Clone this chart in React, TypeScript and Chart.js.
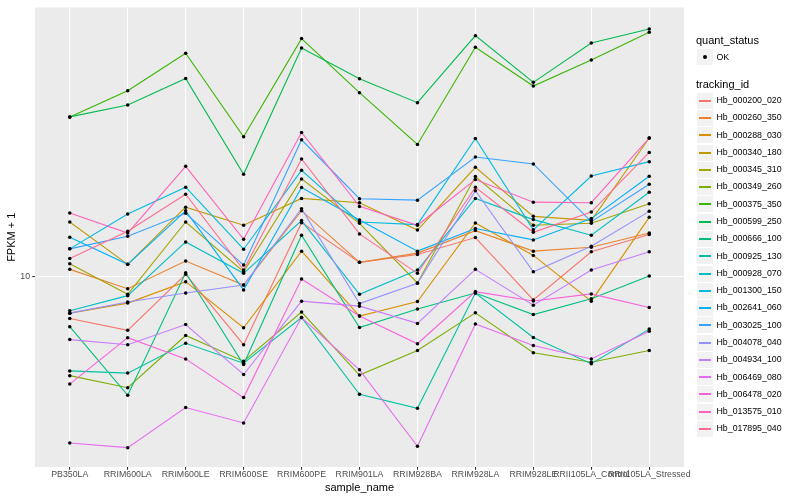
import React, { useEffect, useRef } from 'react';
import { Chart, registerables } from 'chart.js';

Chart.register(...registerables);

const FONT = '"Liberation Sans", Arial, Helvetica, sans-serif';

// ---- data ----
const categories = [
  'PB350LA', 'RRIM600LA', 'RRIM600LE', 'RRIM600SE', 'RRIM600PE', 'RRIM901LA',
  'RRIM928BA', 'RRIM928LA', 'RRIM928LE', 'RRII105LA_Control', 'RRII105LA_Stressed',
];

const trackingIds = [
  'Hb_000200_020', 'Hb_000260_350', 'Hb_000288_030', 'Hb_000340_180', 'Hb_000345_310',
  'Hb_000349_260', 'Hb_000375_350', 'Hb_000599_250', 'Hb_000666_100', 'Hb_000925_130',
  'Hb_000928_070', 'Hb_001300_150', 'Hb_002641_060', 'Hb_003025_100', 'Hb_004078_040',
  'Hb_004934_100', 'Hb_006469_080', 'Hb_006478_020', 'Hb_013575_010', 'Hb_017895_040',
];

const hb000200_020 = [7.41, 6.80, 10.20, 6.13, 14.82, 11.12, 11.77, 13.31, 8.47, 12.00, 13.60];
const hb000260_350 = [10.57, 9.19, 11.22, 9.44, 16.16, 11.12, 11.89, 13.99, 12.06, 12.41, 13.75];
const hb000288_030 = [7.70, 8.28, 9.67, 6.93, 12.06, 7.54, 8.37, 14.78, 11.69, 8.40, 15.40];
const hb000340_180 = [14.89, 10.96, 16.58, 14.54, 17.66, 17.12, 14.05, 22.12, 15.51, 15.07, 27.33];
const hb000345_310 = [11.00, 8.83, 14.89, 10.39, 20.34, 14.75, 9.58, 20.68, 14.54, 14.75, 16.99];
const hb000349_260 = [4.90, 4.49, 6.55, 5.44, 7.76, 4.92, 5.88, 7.72, 5.78, 5.40, 5.88];
const hb000375_350 = [31.85, 38.49, 50.48, 27.58, 56.11, 37.94, 26.10, 52.71, 39.81, 48.11, 58.72];
const hb000599_250 = [31.85, 34.72, 42.08, 21.03, 52.44, 41.96, 35.30, 57.34, 40.89, 54.36, 60.13];
const hb000666_100 = [6.98, 4.25, 10.31, 5.31, 13.53, 6.94, 7.94, 8.91, 7.62, 8.54, 10.07];
const hb000925_130 = [5.07, 4.99, 6.19, 5.36, 7.46, 4.28, 3.87, 8.91, 6.46, 5.34, 6.86];
const hb000928_070 = [7.83, 8.74, 12.89, 10.27, 15.04, 8.83, 10.52, 17.66, 15.15, 13.53, 18.47];
const hb001300_150 = [12.26, 15.77, 19.15, 12.23, 21.64, 14.89, 14.61, 27.25, 14.07, 20.76, 23.04];
const hb002641_060 = [13.34, 10.96, 16.14, 9.11, 19.11, 15.10, 12.06, 14.20, 13.08, 15.26, 20.73];
const hb003025_100 = [12.26, 13.43, 15.85, 10.90, 26.99, 17.62, 17.44, 23.83, 22.66, 14.93, 19.57];
const hb004078_040 = [7.70, 8.35, 8.91, 9.44, 16.39, 8.25, 9.56, 18.66, 10.39, 12.50, 16.08];
const hb004934_100 = [6.36, 6.13, 7.09, 4.94, 8.40, 8.10, 7.15, 10.57, 8.16, 10.52, 12.00];
const hb006469_080 = [3.01, 2.91, 3.89, 3.48, 7.46, 5.11, 2.94, 7.12, 6.09, 5.53, 6.75];
const hb006478_020 = [4.61, 6.45, 5.53, 4.18, 9.86, 7.54, 6.17, 9.00, 8.41, 8.85, 8.02];
const hb013575_010 = [15.88, 13.75, 22.27, 13.14, 28.45, 16.67, 14.54, 20.24, 17.19, 17.12, 27.33];
const hb017895_040 = [11.44, 13.92, 18.21, 10.52, 23.49, 13.66, 10.27, 19.15, 13.82, 16.00, 24.64];

const seriesValues = [
  hb000200_020, hb000260_350, hb000288_030, hb000340_180, hb000345_310,
  hb000349_260, hb000375_350, hb000599_250, hb000666_100, hb000925_130,
  hb000928_070, hb001300_150, hb002641_060, hb003025_100, hb004078_040,
  hb004934_100, hb006469_080, hb006478_020, hb013575_010, hb017895_040,
];

const yTickValues = [10];
const yMin = 2.53;
const yMax = 70.29;

// ---- styles ----
const seriesColors = [
  '#F8766D', '#EA8331', '#D89000', '#C09B00', '#A3A500',
  '#7CAE00', '#39B600', '#00BB4E', '#00BF7D', '#00C1A3',
  '#00BFC4', '#00BAE0', '#00B0F6', '#35A2FF', '#9590FF',
  '#C77CFF', '#E76BF3', '#FA62DB', '#FF62BC', '#FF6C91',
];

const panelBg = {
  id: 'panelBg',
  beforeDraw(chart: any) {
    const { ctx, chartArea } = chart;
    if (!chartArea) return;
    ctx.save();
    ctx.fillStyle = '#EBEBEB';
    ctx.fillRect(chartArea.left, chartArea.top, chartArea.right - chartArea.left, chartArea.bottom - chartArea.top);
    ctx.restore();
  },
};

export default function App() {
  const ref = useRef<HTMLCanvasElement | null>(null);

  useEffect(() => {
    if (!ref.current) return;
    const lineSets = trackingIds.map((id, i) => ({
      type: 'line' as const,
      label: id,
      data: seriesValues[i].map((v, j) => ({ x: j, y: v })),
      borderColor: seriesColors[i],
      backgroundColor: seriesColors[i],
      borderWidth: 1.1,
      pointRadius: 0,
      fill: false,
      tension: 0,
      order: trackingIds.length - i,
    }));
    const points = {
      type: 'scatter' as const,
      label: 'OK',
      data: seriesValues.flatMap((vals) => vals.map((v, j) => ({ x: j, y: v }))),
      backgroundColor: '#000000',
      borderColor: '#000000',
      borderWidth: 0,
      pointRadius: 1.75,
      pointStyle: 'circle',
      order: 0,
    };

    const chart = new Chart(ref.current, {
      type: 'line',
      data: { datasets: [points as any, ...lineSets] },
      options: {
        animation: false,
        responsive: false,
        maintainAspectRatio: false,
        events: [],
        layout: { padding: { left: 0, right: 116, top: 5, bottom: 0 } },
        plugins: { legend: { display: false }, tooltip: { enabled: false } },
        scales: {
          x: {
            type: 'linear',
            min: -0.6,
            max: 10.6,
            afterBuildTicks: (s: any) => {
              s.ticks = categories.map((_, i) => ({ value: i }));
            },
            afterFit: (s: any) => {
              s.height = 33;
            },
            ticks: {
              callback: (v: any) => categories[Math.round(Number(v))] ?? '',
              autoSkip: false,
              maxRotation: 0,
              minRotation: 0,
              color: '#4D4D4D',
              font: { family: FONT, size: 8.8 },
              padding: 0,
            },
            grid: { color: '#FFFFFF', lineWidth: 1.07, tickColor: '#333333', tickLength: 2.75, drawTicks: true },
            border: { display: false },
            title: {
              display: true,
              text: 'sample_name',
              color: '#000000',
              font: { family: FONT, size: 11 },
              padding: { top: 0, bottom: 5.5 },
            },
          },
          y: {
            type: 'logarithmic',
            min: yMin,
            max: yMax,
            afterBuildTicks: (s: any) => {
              s.ticks = yTickValues.map((v) => ({ value: v }));
            },
            afterFit: (s: any) => {
              s.width = 35;
            },
            ticks: {
              callback: (v: any) => String(v),
              color: '#4D4D4D',
              font: { family: FONT, size: 8.8 },
              padding: 2.2,
            },
            grid: { color: '#FFFFFF', lineWidth: 1.07, tickColor: '#333333', tickLength: 2.75, drawTicks: true },
            border: { display: false },
            title: {
              display: true,
              text: 'FPKM + 1',
              color: '#000000',
              font: { family: FONT, size: 11 },
              padding: { top: 5.5, bottom: 0 },
            },
          },
        },
      } as any,
      plugins: [panelBg],
    });
    return () => chart.destroy();
  }, []);

  const keyTop0 = 100.7;
  const keyStep = 17.28;
  const legendLeft = 697;
  const textLeft = 716.5;

  return (
    <div style={{ position: 'absolute', left: 0, top: 0, width: 800, height: 500, background: '#FFFFFF', overflow: 'hidden' }}>
      <canvas ref={ref} width={800} height={500} style={{ position: 'absolute', left: 0, top: 0, width: 800, height: 500 }} />
      <div style={{ position: 'absolute', left: 696, top: 33.2, font: `11px ${FONT}`, lineHeight: '15px', color: '#000', whiteSpace: 'nowrap' }}>quant_status</div>
      <div style={{ position: 'absolute', left: legendLeft, top: 49, width: 16, height: 16, background: '#F2F2F2' }}>
        <div style={{ position: 'absolute', left: 6, top: 6, width: 4, height: 4, borderRadius: '50%', background: '#000' }} />
      </div>
      <div style={{ position: 'absolute', left: textLeft, top: 57.2 - 8.64, font: `8.8px ${FONT}`, lineHeight: '17.28px', color: '#000', whiteSpace: 'nowrap' }}>OK</div>
      <div style={{ position: 'absolute', left: 696, top: 76.5, font: `11px ${FONT}`, lineHeight: '15px', color: '#000', whiteSpace: 'nowrap' }}>tracking_id</div>
      {trackingIds.map((id, i) => {
        const c = keyTop0 + keyStep * i;
        const boxTop = Math.round(c - 8);
        return (
          <React.Fragment key={id}>
            <div style={{ position: 'absolute', left: legendLeft, top: boxTop, width: 16, height: 16, background: '#F2F2F2' }}>
              <div style={{ position: 'absolute', left: 2, width: 12, top: 7, height: 1.6, background: seriesColors[i] }} />
            </div>
            <div style={{ position: 'absolute', left: textLeft, top: c - 8.64, font: `8.8px ${FONT}`, lineHeight: '17.28px', color: '#000', whiteSpace: 'nowrap' }}>{id}</div>
          </React.Fragment>
        );
      })}
    </div>
  );
}
